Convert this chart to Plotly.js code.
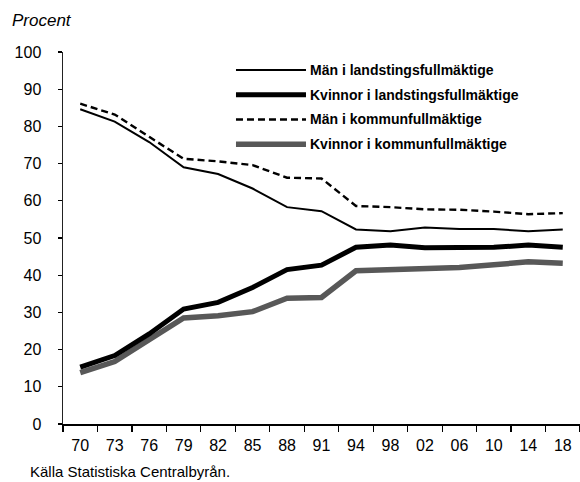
<!DOCTYPE html>
<html><head><meta charset="utf-8">
<script src="https://cdn.plot.ly/plotly-3.0.1.min.js"></script>
<style>html,body{margin:0;padding:0;background:#fff}#chart{width:580px;height:482px}</style>
</head><body><div id="chart"></div>
<script>
const years = ["70","73","76","79","82","85","88","91","94","98","02","06","10","14","18"];
const manLandsting     = [84.6, 81.3, 75.8, 69.0, 67.2, 63.3, 58.3, 57.2, 52.3, 51.8, 52.8, 52.4, 52.4, 51.8, 52.3];
const kvinnorLandsting = [15.3, 18.4, 24.2, 30.9, 32.7, 36.7, 41.5, 42.7, 47.5, 48.1, 47.4, 47.5, 47.5, 48.1, 47.5];
const manKommun        = [86.1, 83.2, 77.2, 71.3, 70.6, 69.6, 66.2, 66.0, 58.6, 58.3, 57.7, 57.6, 57.1, 56.4, 56.7];
const kvinnorKommun    = [13.8, 16.8, 22.7, 28.5, 29.1, 30.2, 33.8, 34.0, 41.2, 41.5, 42.1, 42.1, 42.8, 43.6, 43.2];
const seriesNames = ["Män i landstingsfullmäktige","Kvinnor i landstingsfullmäktige","Män i kommunfullmäktige","Kvinnor i kommunfullmäktige"];
const yTicks = [0,10,20,30,40,50,60,70,80,90,100];

const FONT = "'Liberation Sans',Arial,sans-serif";
const styles = [
  {color:'#000000', width:2, dash:'solid'},
  {color:'#000000', width:5, dash:'solid'},
  {color:'#000000', width:2.4, dash:'7px,4px'},
  {color:'#585858', width:5.5, dash:'solid'}
];
const values = [manLandsting, kvinnorLandsting, manKommun, kvinnorKommun];
const order = [3,1,2,0];
const traces = order.map(i => ({
  type:'scatter', mode:'lines', x:years, y:values[i], name:seriesNames[i],
  line:{color:styles[i].color, width:styles[i].width, dash:styles[i].dash},
  hoverinfo:'x+y+name', showlegend:false
}));

const shapes = [];
const annotations = [];
const legX0 = 0.3346, legX1 = 0.470, legTextX = 0.474, legY0 = 0.9516, legStep = 0.0665;
seriesNames.forEach((nm, i) => {
  const yy = legY0 - i*legStep;
  shapes.push({type:'line', xref:'paper', yref:'paper', x0:legX0, x1:legX1, y0:yy, y1:yy,
    line:{color:styles[i].color, width:styles[i].width, dash:styles[i].dash}});
  annotations.push({xref:'paper', yref:'paper', x:legTextX, y:yy, xanchor:'left', yanchor:'middle',
    text:'<b>'+nm+'</b>', showarrow:false, font:{family:FONT, size:14, color:'#000'}});
});
annotations.push({xref:'paper', yref:'paper', x:-0.1025, y:1.086, xanchor:'left', yanchor:'middle',
  text:'<i>Procent</i>', showarrow:false, font:{family:FONT, size:17, color:'#000'}});
annotations.push({xref:'paper', yref:'paper', x:-0.0677, y:-0.128, xanchor:'left', yanchor:'middle',
  text:'Källa Statistiska Centralbyrån.', showarrow:false, font:{family:FONT, size:15, color:'#000'}});

const layout = {
  width:580, height:482,
  margin:{l:63, r:0, t:52, b:58},
  paper_bgcolor:'#fff', plot_bgcolor:'#fff',
  showlegend:false,
  font:{family:FONT, size:16, color:'#000'},
  xaxis:{type:'category', range:[-0.5,14.5], tickson:'boundaries', ticks:'outside', ticklen:6,
    tickcolor:'#000', tickwidth:1.2, showline:true, linecolor:'#000', linewidth:1.5,
    showgrid:false, zeroline:false, ticklabelstandoff:6, tickfont:{family:FONT, size:16, color:'#000'}},
  xaxis2:{overlaying:'x', anchor:'y', side:'bottom', range:[-0.5,14.5], tickmode:'linear', tick0:-0.5, dtick:1,
    ticks:'inside', ticklen:5, tickcolor:'#000', tickwidth:1.2, showticklabels:false, showline:false,
    showgrid:false, zeroline:false},
  xaxis3:{overlaying:'x', anchor:'y', side:'top', range:[-0.5,14.5], ticks:'', showticklabels:false,
    showline:true, linecolor:'#555', linewidth:1.5, showgrid:false, zeroline:false},
  yaxis:{range:[0,100], tickvals:yTicks, ticks:'outside', ticklen:4, tickcolor:'#000', tickwidth:1.2,
    showline:true, linecolor:'#222', linewidth:1.5, showgrid:false, zeroline:false,
    ticklabelstandoff:13, tickfont:{family:FONT, size:16, color:'#000'}},
  shapes:shapes, annotations:annotations
};
Plotly.newPlot('chart', traces, layout, {staticPlot:true, displayModeBar:false});
</script></body></html>
